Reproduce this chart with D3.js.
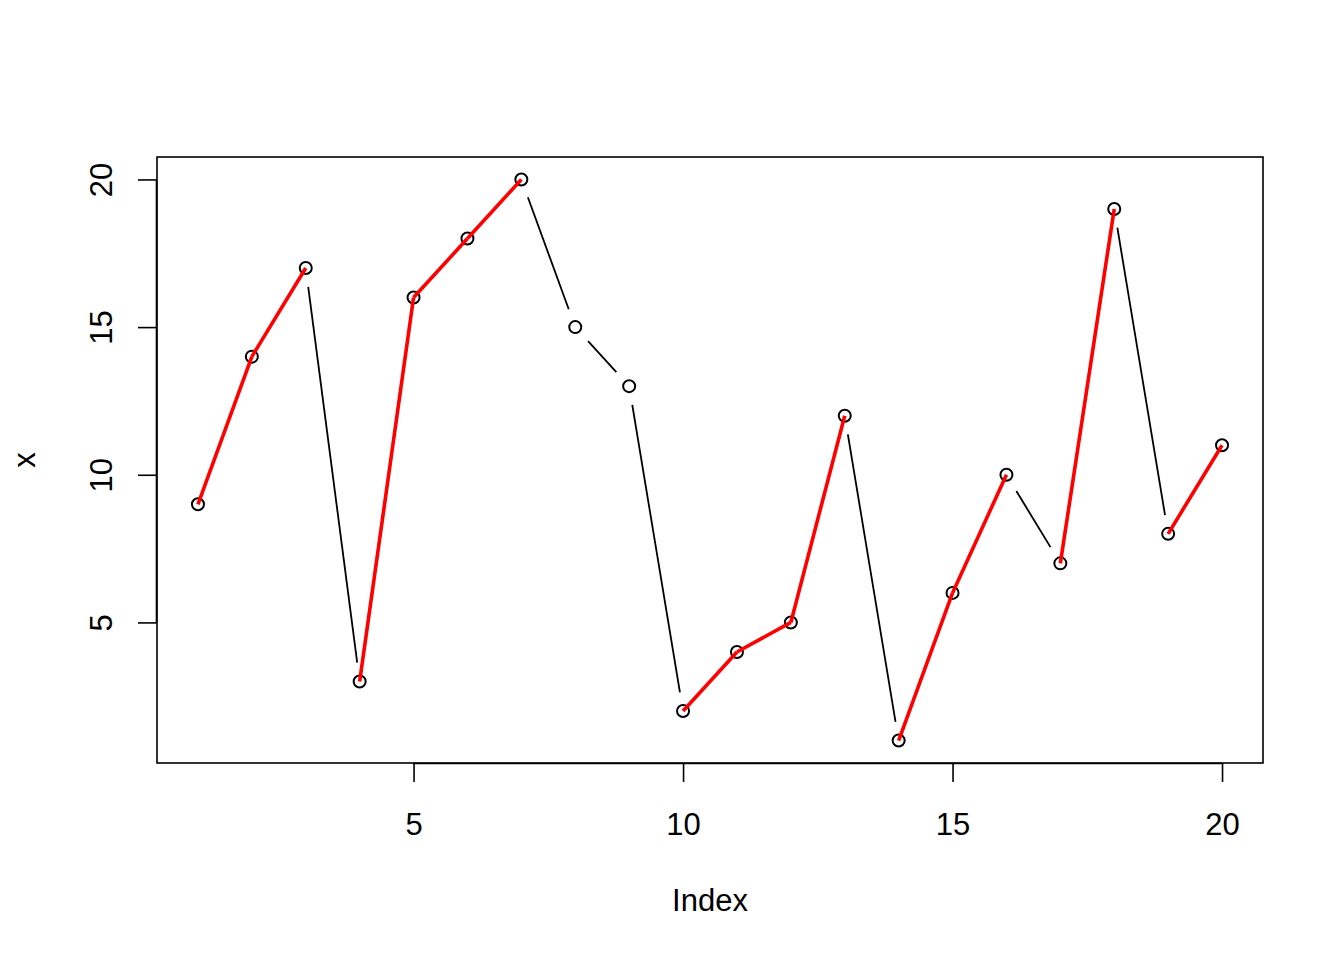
<!DOCTYPE html>
<html><head><meta charset="utf-8">
<script src="https://cdn.jsdelivr.net/npm/d3@7"></script>
<style>body{margin:0;background:#fff}svg{display:block}text{font-family:"Liberation Sans",Arial,sans-serif;fill:#000}</style>
</head><body>
<script>
const values = [9,14,17,3,16,18,20,15,13,2,4,5,12,1,6,10,7,19,8,11];
const index = values.map((d,i)=>i+1);
const xTicks = [5,10,15,20];
const yTicks = [5,10,15,20];
const xLabel = "Index", yLabel = "x";

const W=1344,H=960, L=157,R=1263,T=157,B=763;
const svg=d3.select("body").append("svg").attr("width",W).attr("height",H);
const x=d3.scaleLinear().domain([0.24,20.76]).range([L,R]);
const y=d3.scaleLinear().domain([0.24,20.76]).range([B,T]);
const pts=values.map((v,i)=>({x:x(index[i]),y:y(v),v}));
const fs=31;

// black gapped lines (type = "b")
const gap=19;
for(let i=0;i<pts.length-1;i++){
  const a=pts[i],b=pts[i+1];
  const dx=b.x-a.x,dy=b.y-a.y,len=Math.hypot(dx,dy);
  if(len<=2*gap) continue;
  const ux=dx/len,uy=dy/len;
  svg.append("line").attr("x1",a.x+ux*gap).attr("y1",a.y+uy*gap)
    .attr("x2",b.x-ux*gap).attr("y2",b.y-uy*gap)
    .attr("stroke","#000").attr("stroke-width",1.8);
}
// points
svg.selectAll("circle.p").data(pts).join("circle")
  .attr("cx",d=>d.x).attr("cy",d=>d.y).attr("r",6)
  .attr("fill","none").attr("stroke","#000").attr("stroke-width",2);
// red increasing segments
for(let i=0;i<pts.length-1;i++){
  if(values[i+1]>values[i]){
    svg.append("line").attr("x1",pts[i].x).attr("y1",pts[i].y)
      .attr("x2",pts[i+1].x).attr("y2",pts[i+1].y)
      .attr("stroke","#ff0000").attr("stroke-width",3.6);
  }
}
// box
svg.append("rect").attr("x",L).attr("y",T).attr("width",R-L).attr("height",B-T)
  .attr("fill","none").attr("stroke","#000").attr("stroke-width",1.6);

// x axis
const gx=svg.append("g").attr("transform",`translate(0,${B})`)
  .call(d3.axisBottom(x).tickValues(xTicks).tickSize(19).tickPadding(0).tickSizeOuter(0));
gx.select(".domain").attr("d",`M${x(5)},0.5H${x(20)}`).attr("stroke-width",1.6);
gx.selectAll(".tick line").attr("stroke-width",1.6);
gx.selectAll(".tick text").attr("dy",null).attr("y",72).style("font-size",fs+"px")
  .style("font-family","Liberation Sans, Arial, sans-serif").attr("fill","#000");

// y axis
const gy=svg.append("g").attr("transform",`translate(${L},0)`)
  .call(d3.axisLeft(y).tickValues(yTicks).tickSize(19).tickPadding(0).tickSizeOuter(0));
gy.select(".domain").attr("d",`M-0.5,${y(5)}V${y(20)}`).attr("stroke-width",1.6);
gy.selectAll(".tick line").attr("stroke-width",1.6);
gy.selectAll(".tick text").attr("x",null).attr("dy",null)
  .attr("transform","translate(-45,0) rotate(-90)").attr("text-anchor","middle")
  .style("font-size",fs+"px").style("font-family","Liberation Sans, Arial, sans-serif").attr("fill","#000");

// axis titles
svg.append("text").attr("x",(L+R)/2).attr("y",911).attr("text-anchor","middle")
  .style("font-size",fs+"px").text(xLabel);
svg.append("text").attr("transform",`translate(35,${(T+B)/2}) rotate(-90)`).attr("text-anchor","middle")
  .style("font-size",fs+"px").text(yLabel);
</script>
</body></html>
